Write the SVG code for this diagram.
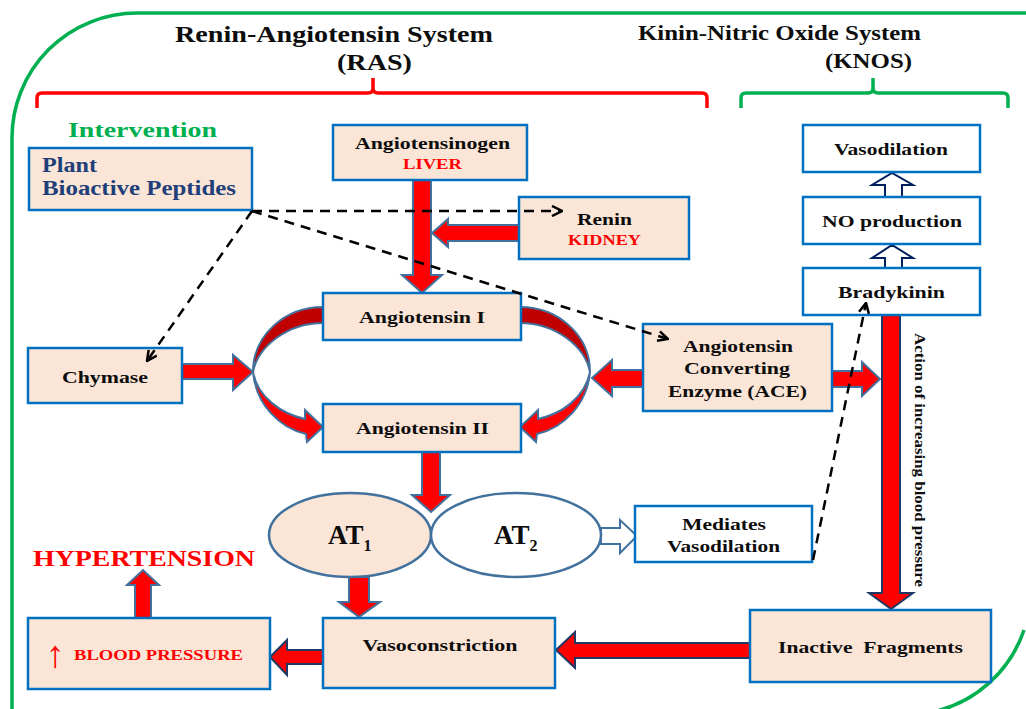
<svg xmlns="http://www.w3.org/2000/svg" width="1026" height="709" viewBox="0 0 1026 709">
<style>
.box{fill:#fbe5d6;stroke:#0070c0;stroke-width:2.5}
.wbox{fill:#ffffff;stroke:#0070c0;stroke-width:2.5}
.t{font-family:"Liberation Serif","Times New Roman",serif;font-weight:bold;text-anchor:middle;fill:#0d0d0d}
.red{fill:#ff0000}
.arr{fill:#ff0000;stroke:#41719c;stroke-width:2;stroke-linejoin:miter}
.arrn{fill:#ff0000;stroke:#1f3864;stroke-width:2}
.hol{fill:#ffffff;stroke:#002060;stroke-width:2}
.dash{fill:none;stroke:#000;stroke-width:2.5;stroke-dasharray:10 7}
</style>
<defs>
<marker id="oa" viewBox="0 0 12 12" refX="11" refY="6" markerWidth="12" markerHeight="12" orient="auto" markerUnits="userSpaceOnUse">
<path d="M1,1 L11,6 L1,11" fill="none" stroke="#000" stroke-width="2.5" stroke-dasharray="none"/>
</marker>
</defs>
<rect width="1026" height="709" fill="#ffffff"/>

<g id="frame" fill="none">
<path d="M12 709 L12 138 A125 125 0 0 1 137 13 L1026 13" stroke="#00b050" stroke-width="3.5"/>
<path d="M1024 630 A125 125 0 0 1 933 712" stroke="#00b050" stroke-width="3.5"/>
<path d="M37 108 V98 Q37 93 42 93 H368 Q373 93 373 88 V78 M373 88 Q373 93 378 93 H702 Q707 93 707 98 V108" stroke="#ff0000" stroke-width="3.5"/>
<path d="M741 108 V98 Q741 93 746 93 H868 Q873 93 873 88 V78 M873 88 Q873 93 878 93 H1003 Q1008 93 1008 98 V108" stroke="#00b050" stroke-width="3.5"/>
</g>

<g id="titles">
<text class="t" x="334" y="42" font-size="23" textLength="318" lengthAdjust="spacingAndGlyphs">Renin-Angiotensin System</text>
<text class="t" x="374.5" y="70" font-size="23" textLength="75" lengthAdjust="spacingAndGlyphs">(RAS)</text>
<text class="t" x="779.5" y="40" font-size="20" textLength="283" lengthAdjust="spacingAndGlyphs">Kinin-Nitric Oxide System</text>
<text class="t" x="868.5" y="68" font-size="20" textLength="87" lengthAdjust="spacingAndGlyphs">(KNOS)</text>
<text class="t" x="142.5" y="137" font-size="22" textLength="149" lengthAdjust="spacingAndGlyphs" style="fill:#00b050">Intervention</text>
</g>

<g id="connectors">
<polygon class="arr" points="413,180 431,180 431,275 442,275 422,293 402,275 413,275"/>
<polygon class="arr" points="519,225 448,225 448,219 432,233 448,247 448,241 519,241"/>
<polygon class="arr" points="181,364 233,364 233,355 253,372 233,390 233,379 181,379"/>
<g id="curve-left">
<path d="M323 307 C285 307 253 335 253 372 C258 346 288 323 323 323 Z" fill="#c00000" stroke="#41719c" stroke-width="2"/>
<path d="M253 372 C256 405 280 428 306 434 L307 442 L323 427 L305 410 L305 419 C282 414 258 398 253 372 Z" class="arr"/>
</g>
<g id="curve-right" transform="translate(843 0) scale(-1 1)">
<path d="M323 307 C285 307 253 335 253 372 C258 346 288 323 323 323 Z" fill="#c00000" stroke="#41719c" stroke-width="2"/>
<path d="M253 372 C256 405 280 428 306 434 L307 442 L323 427 L305 410 L305 419 C282 414 258 398 253 372 Z" class="arr"/>
</g>
<polygon class="arr" points="643,370 612,370 612,360 592,378 612,396 612,387 643,387"/>
<polygon class="arr" points="832,371 862,371 862,362 880,379 862,396 862,387 832,387"/>
<polygon class="arr" points="422,452 440,452 440,495 450,495 431,512 412,495 422,495"/>
<polygon class="arr" points="349,577 369,577 369,602 380,602 359,617 339,602 349,602"/>
<polygon class="arrn" points="323,650 287,650 287,640 270,657 287,675 287,664 323,664"/>
<polygon class="arr" points="135,618 135,585 127,585 143,570 159,585 151,585 151,618"/>
<polygon class="arrn" points="750,643 575,643 575,632 556,650 575,668 575,658 750,658"/>
<polygon class="arrn" points="882,315 900,315 900,593 913,593 891,609 869,593 882,593"/>
<polygon class="hol" points="885,197 885,185 872,185 892,173 913,185 902,185 902,197"/>
<polygon class="hol" points="885,268 885,258 872,258 892,245 913,258 902,258 902,268"/>
<polygon points="601,528 620,528 620,520 637,536 620,553 620,544 601,544" fill="#fff" stroke="#41719c" stroke-width="2"/>
<text class="t" font-size="14" textLength="254" lengthAdjust="spacingAndGlyphs" transform="translate(915 460) rotate(90)" x="0" y="0">Action of increasing blood pressure</text>
</g>

<g id="n-plant">
<rect class="box" x="29" y="148" width="223" height="62"/>
<text class="t" x="42" y="172" font-size="20" textLength="55" lengthAdjust="spacingAndGlyphs" style="text-anchor:start;fill:#1f3f7a">Plant</text>
<text class="t" x="42" y="195" font-size="20" textLength="194" lengthAdjust="spacingAndGlyphs" style="text-anchor:start;fill:#1f3f7a">Bioactive Peptides</text>
</g>
<g id="n-angiotensinogen">
<rect class="box" x="333" y="125" width="194" height="55"/>
<text class="t" x="432.5" y="149" font-size="16" textLength="155" lengthAdjust="spacingAndGlyphs">Angiotensinogen</text>
<text class="t red" x="432.5" y="169" font-size="15" textLength="59" lengthAdjust="spacingAndGlyphs" style="fill:#ff0000">LIVER</text>
</g>
<g id="n-renin">
<rect class="box" x="519" y="197" width="170" height="62"/>
<text class="t" x="604.5" y="225" font-size="17" textLength="55" lengthAdjust="spacingAndGlyphs">Renin</text>
<text class="t" x="604.5" y="245" font-size="15" textLength="73" lengthAdjust="spacingAndGlyphs" style="fill:#ff0000">KIDNEY</text>
</g>
<g id="n-chymase">
<rect class="box" x="28" y="348" width="154" height="55"/>
<text class="t" x="105" y="383" font-size="17" textLength="86" lengthAdjust="spacingAndGlyphs">Chymase</text>
</g>
<g id="n-ang1">
<rect class="box" x="323" y="293" width="198" height="47"/>
<text class="t" x="422" y="323" font-size="17" textLength="126" lengthAdjust="spacingAndGlyphs">Angiotensin I</text>
</g>
<g id="n-ang2">
<rect class="box" x="323" y="404" width="198" height="48"/>
<text class="t" x="422.5" y="434" font-size="17" textLength="133" lengthAdjust="spacingAndGlyphs">Angiotensin II</text>
</g>
<g id="n-ace">
<rect class="box" x="643" y="324" width="189" height="87"/>
<text class="t" x="738" y="352" font-size="17" textLength="110" lengthAdjust="spacingAndGlyphs">Angiotensin</text>
<text class="t" x="737" y="374" font-size="17" textLength="106" lengthAdjust="spacingAndGlyphs">Converting</text>
<text class="t" x="737.5" y="397" font-size="17" textLength="139" lengthAdjust="spacingAndGlyphs">Enzyme (ACE)</text>
</g>
<g id="n-vasodilation">
<rect class="wbox" x="803" y="125" width="177" height="47"/>
<text class="t" x="891" y="155" font-size="16" textLength="114" lengthAdjust="spacingAndGlyphs">Vasodilation</text>
</g>
<g id="n-no">
<rect class="wbox" x="803" y="197" width="177" height="47"/>
<text class="t" x="892" y="227" font-size="17" textLength="140" lengthAdjust="spacingAndGlyphs">NO production</text>
</g>
<g id="n-bradykinin">
<rect class="wbox" x="803" y="268" width="177" height="47"/>
<text class="t" x="891.5" y="298" font-size="16" textLength="107" lengthAdjust="spacingAndGlyphs">Bradykinin</text>
</g>
<g id="n-at1">
<ellipse cx="350" cy="535" rx="81" ry="42" fill="#fbe5d6" stroke="#41719c" stroke-width="2.5"/>
<text class="t" x="328" y="544" font-size="27" style="text-anchor:start">AT<tspan font-size="16" dy="7">1</tspan></text>
</g>
<g id="n-at2">
<ellipse cx="516" cy="535" rx="85" ry="42" fill="#ffffff" stroke="#41719c" stroke-width="2.5"/>
<text class="t" x="494" y="544" font-size="27" style="text-anchor:start">AT<tspan font-size="16" dy="7">2</tspan></text>
</g>
<g id="n-mediates">
<rect class="wbox" x="635" y="506" width="177" height="56"/>
<text class="t" x="724" y="530" font-size="16" textLength="84" lengthAdjust="spacingAndGlyphs">Mediates</text>
<text class="t" x="723.5" y="552" font-size="16" textLength="113" lengthAdjust="spacingAndGlyphs">Vasodilation</text>
</g>
<g id="n-hypertension">
<text class="t" x="144" y="566" font-size="24" textLength="222" lengthAdjust="spacingAndGlyphs" style="fill:#ff0000">HYPERTENSION</text>
</g>
<g id="n-bp">
<rect class="box" x="28" y="618" width="242" height="71"/>
<text x="55" y="667" font-size="38" text-anchor="middle" font-family="'Liberation Serif','DejaVu Serif',serif" fill="#ff0000">↑</text>
<text class="t" x="158.5" y="660" font-size="15" textLength="169" lengthAdjust="spacingAndGlyphs" style="fill:#ff0000">BLOOD PRESSURE</text>
</g>
<g id="n-vasoconstriction">
<rect class="box" x="323" y="618" width="232" height="70"/>
<text class="t" x="440" y="651" font-size="17" textLength="155" lengthAdjust="spacingAndGlyphs">Vasoconstriction</text>
</g>
<g id="n-inactive">
<rect class="box" x="750" y="610" width="241" height="72"/>
<text class="t" x="870.5" y="653" font-size="17" textLength="185" lengthAdjust="spacingAndGlyphs" style="white-space:pre">Inactive  Fragments</text>
</g>

<g id="dashed-connectors">
<path class="dash" d="M252 211 L562 211" marker-end="url(#oa)"/>
<path class="dash" d="M252 211 L668 339" marker-end="url(#oa)"/>
<path class="dash" d="M252 211 L147 361" marker-end="url(#oa)"/>
<path class="dash" d="M813 560 L866 303" marker-end="url(#oa)"/>
</g>
</svg>
